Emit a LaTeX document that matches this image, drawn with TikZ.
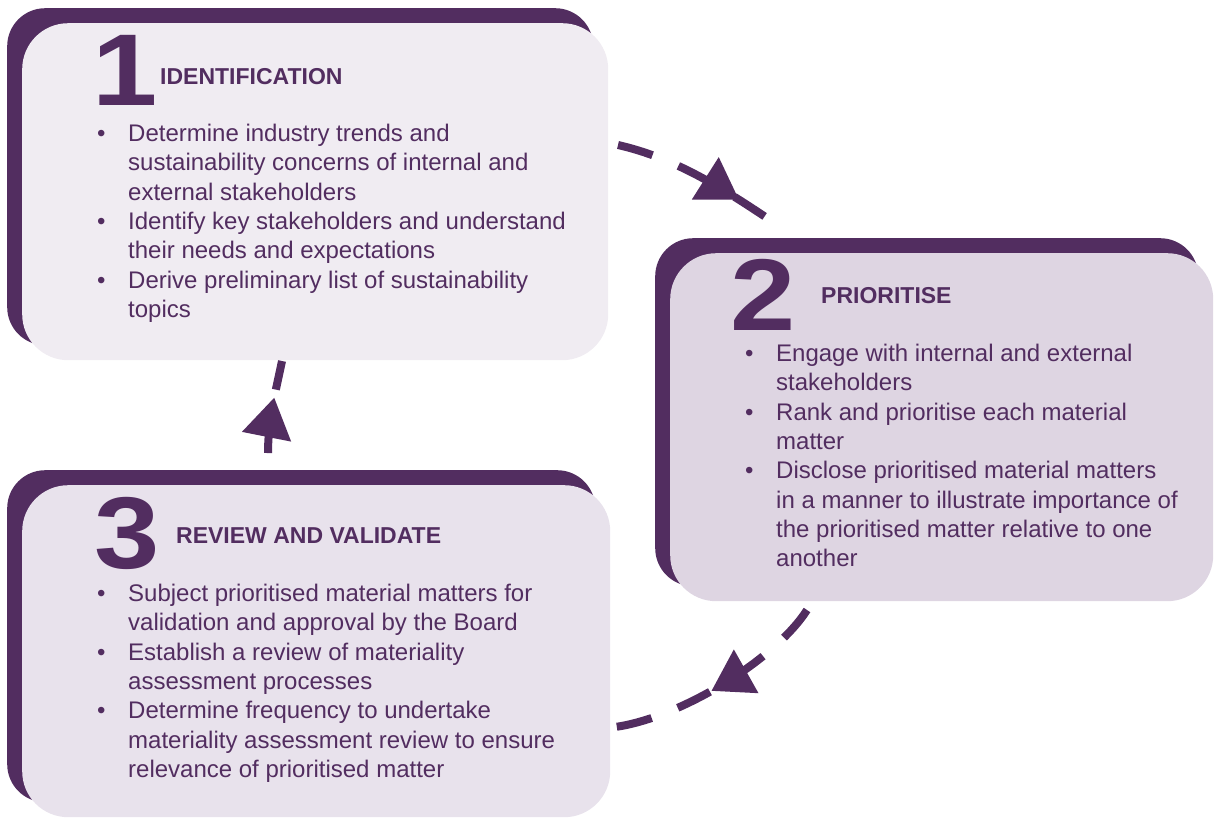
\documentclass[tikz,border=0pt]{standalone}
\usepackage{fontspec}
\setmainfont{Liberation Sans}
\newfontfamily\digitfont[FakeStretch=1.15]{Liberation Sans}
\usetikzlibrary{arrows.meta,decorations.markings}
\definecolor{plum}{RGB}{82,45,96}
\definecolor{lilac1}{RGB}{240,236,242}
\definecolor{lilac2}{RGB}{222,213,226}
\definecolor{lilac3}{RGB}{232,226,236}
\newcommand{\bul}{\makebox[31pt][l]{\textbullet}}
\newcommand{\ind}{\hspace*{31pt}}
\begin{document}
\begin{tikzpicture}[x=1pt, y=-1pt,
	back/.style={fill=plum, rounded corners=38pt, anchor=north west, inner sep=0pt},
	front/.style={fill=#1, rounded corners=46pt, anchor=north west, inner sep=0pt},
	digit/.style={anchor=base west, inner sep=0pt, text=plum, font=\digitfont\bfseries\fontsize{102}{102}\selectfont},
	title/.style={anchor=base west, inner sep=0pt, text=plum, font=\bfseries\fontsize{23}{27}\selectfont},
	items/.style={anchor=north west, inner sep=0pt, align=left, text=plum, font=\fontsize{24}{29.3}\selectfont},
	flow/.style={draw=plum, line width=8pt, dash pattern=on 36pt off 28pt, postaction={decorate},
		decoration={markings, mark=at position #1 with {\arrow[plum]{Triangle[length=40pt,width=48pt]}}}}]
	\useasboundingbox (0,0) rectangle (1214,817);
	\clip (0,0) rectangle (1214,817);
	% boxes
	\foreach \n/\x/\y/\w/\h/\c in {1/7/8/586pt/337pt/lilac1, 2/655/238/543pt/348pt/lilac2, 3/7/470/588pt/332pt/lilac3}{
		\node[back, minimum width=\w, minimum height=\h] (back\n) at (\x,\y) {};
		\node[front=\c, minimum width=\w, minimum height=\h] (box\n) at (\x+15,\y+15) {};
	}
	% step 1
	\node[digit] (num1) at (92,105) {1};
	\node[title] (head1) at (160,84) {IDENTIFICATION};
	\node[items] (list1) at (97,124) {\bul Determine industry trends and\\ \ind sustainability concerns of internal and\\ \ind external stakeholders\\
		\bul Identify key stakeholders and understand\\ \ind their needs and expectations\\
		\bul Derive preliminary list of sustainability\\ \ind topics};
	% step 2
	\node[digit] (num2) at (730,330) {2};
	\node[title] (head2) at (821,303) {PRIORITISE};
	\node[items] (list2) at (745,344) {\bul Engage with internal and external\\ \ind stakeholders\\
		\bul Rank and prioritise each material\\ \ind matter\\
		\bul Disclose prioritised material matters\\ \ind in a manner to illustrate importance of\\ \ind the prioritised matter relative to one\\ \ind another};
	% step 3
	\node[digit] (num3) at (94,568) {3};
	\node[title] (head3) at (176,543) {REVIEW AND VALIDATE};
	\node[items] (list3) at (97,584) {\bul Subject prioritised material matters for\\ \ind validation and approval by the Board\\
		\bul Establish a review of materiality\\ \ind assessment processes\\
		\bul Determine frequency to undertake\\ \ind materiality assessment review to ensure\\ \ind relevance of prioritised matter};
	% dashed cycle
	\coordinate (s12) at (618,145);
	\coordinate (e12) at (767,218);
	\coordinate (s23) at (807,610);
	\coordinate (e23) at (615,727);
	\coordinate (s31) at (268,453);
	\coordinate (e31) at (282,361);
	\draw[flow=0.8] (s12) .. controls (675,158) and (722,188) .. (e12);
	\draw[flow=0.55] (s23) .. controls (775,660) and (680,718) .. (e23);
	\draw[flow=0.6] (s31) .. controls (268,420) and (276,390) .. (e31);
\end{tikzpicture}
\end{document}
